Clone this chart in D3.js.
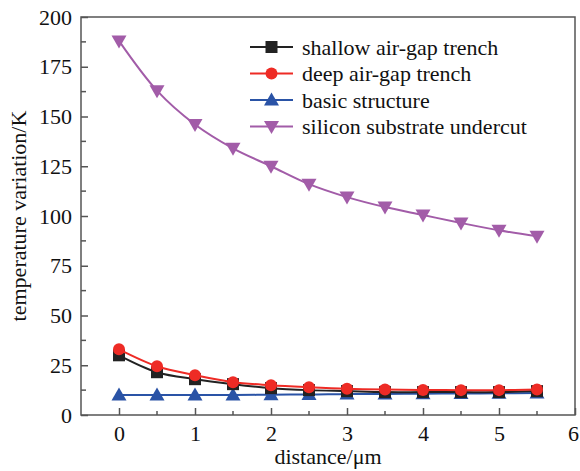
<!DOCTYPE html>
<html>
<head>
<meta charset="utf-8">
<script src="https://cdn.jsdelivr.net/npm/d3@7"></script>
<style>
  body { margin: 0; background: #fff; }
  text { font-family: "Liberation Serif", "Times New Roman", serif; }
</style>
</head>
<body>
<div id="chart"></div>
<script>
// ---------------- data ----------------
var distance = [0, 0.5, 1, 1.5, 2, 2.5, 3, 3.5, 4, 4.5, 5, 5.5];
var shallowTrench = [30, 21.5, 18, 15.5, 13.5, 12.5, 12, 11.5, 11.5, 11.5, 11.5, 12];
var deepTrench = [33, 24.5, 20, 16.5, 15, 14, 13.2, 12.8, 12.6, 12.5, 12.5, 12.8];
var basicStructure = [10, 10, 10, 10, 10.2, 10.3, 10.5, 10.6, 10.7, 10.8, 10.9, 11];
var substrateUndercut = [188, 163, 146, 134, 125, 116, 109.5, 104.5, 100.5, 96.5, 92.8, 89.8];
var seriesNames = ["shallow air-gap trench", "deep air-gap trench", "basic structure", "silicon substrate undercut"];
var xTicks = [0, 1, 2, 3, 4, 5, 6];
var yTicks = [0, 25, 50, 75, 100, 125, 150, 175, 200];

var series = [
  {name: seriesNames[0], values: shallowTrench, color: "#222222", marker: "square"},
  {name: seriesNames[1], values: deepTrench, color: "#ee2b25", marker: "circle"},
  {name: seriesNames[2], values: basicStructure, color: "#2a53a6", marker: "up"},
  {name: seriesNames[3], values: substrateUndercut, color: "#a25ca8", marker: "down"}
];

// ---------------- canvas ----------------
var svgWidth = 580, svgHeight = 471;
var margin = {left: 81, right: 5, top: 17, bottom: 56};
var w = svgWidth - margin.left - margin.right,
    h = svgHeight - margin.top - margin.bottom;

var svg = d3.select("#chart").append("svg")
    .attr("width", svgWidth)
    .attr("height", svgHeight);

var g = svg.append("g")
    .attr("transform", `translate(${margin.left}, ${margin.top})`);

var x = d3.scaleLinear().domain([-0.5, 6]).range([0, w]);
var y = d3.scaleLinear().domain([0, 200]).range([h, 0]);

var axisColor = "#555";
var fontSize = 22;

// frame
g.append("rect")
    .attr("width", w).attr("height", h)
    .attr("fill", "none").attr("stroke", axisColor).attr("stroke-width", 1.5);

// x axis (ticks point inward)
var xAxis = g.append("g").attr("transform", `translate(0, ${h})`)
    .call(d3.axisBottom(x).tickValues(xTicks).tickSize(-7).tickPadding(10).tickFormat(d3.format("d")));
xAxis.select(".domain").remove();
xAxis.selectAll(".tick line").attr("stroke", axisColor).attr("stroke-width", 1.5);
xAxis.selectAll("text").attr("font-size", fontSize).attr("fill", "#111").attr("font-family", "Liberation Serif");
// last label sits against the right edge, as in the original
xAxis.selectAll("text").filter(d => d === 6).attr("dx", -2);

// x minor ticks
g.append("g").selectAll("line")
    .data(d3.range(0.5, 6, 1))
    .enter().append("line")
    .attr("x1", d => x(d)).attr("x2", d => x(d))
    .attr("y1", h).attr("y2", h - 4)
    .attr("stroke", axisColor).attr("stroke-width", 1.5);

// y axis
var yAxis = g.append("g")
    .call(d3.axisLeft(y).tickValues(yTicks).tickSize(-7).tickPadding(9));
yAxis.select(".domain").remove();
yAxis.selectAll(".tick line").attr("stroke", axisColor).attr("stroke-width", 1.5);
yAxis.selectAll("text").attr("font-size", fontSize).attr("fill", "#111").attr("font-family", "Liberation Serif");

// y minor ticks
g.append("g").selectAll("line")
    .data(d3.range(12.5, 200, 25))
    .enter().append("line")
    .attr("x1", 0).attr("x2", 5)
    .attr("y1", d => y(d)).attr("y2", d => y(d))
    .attr("stroke", axisColor).attr("stroke-width", 1.5);

// axis titles
svg.append("text")
    .attr("x", margin.left + x(2.75)).attr("y", 464)
    .attr("text-anchor", "middle")
    .attr("font-size", fontSize).attr("fill", "#111")
    .text("distance/\u03bcm");

svg.append("text")
    .attr("transform", `translate(26, ${margin.top + h / 2}) rotate(-90)`)
    .attr("text-anchor", "middle")
    .attr("font-size", fontSize).attr("fill", "#111")
    .text("temperature variation/K");

// ---------------- markers ----------------
function drawMarker(sel, type, color, cx, cy) {
  if (type === "square") {
    sel.append("rect").attr("x", cx - 6).attr("y", cy - 6)
      .attr("width", 12).attr("height", 12).attr("fill", color);
  } else if (type === "circle") {
    sel.append("circle").attr("cx", cx).attr("cy", cy).attr("r", 6).attr("fill", color);
  } else if (type === "up") {
    sel.append("path").attr("d", `M${cx},${cy - 7.5}L${cx + 7.5},${cy + 5.5}L${cx - 7.5},${cy + 5.5}Z`).attr("fill", color);
  } else {
    sel.append("path").attr("d", `M${cx - 7.5},${cy - 5.5}L${cx + 7.5},${cy - 5.5}L${cx},${cy + 7.5}Z`).attr("fill", color);
  }
}

var line = d3.line()
    .x((d, i) => x(distance[i]))
    .y(d => y(d))
    .curve(d3.curveCatmullRom);

// draw order: purple, blue, black, red
[3, 2, 0, 1].forEach(function(k) {
  var s = series[k];
  var sg = g.append("g");
  sg.append("path")
    .attr("d", line(s.values))
    .attr("fill", "none").attr("stroke", s.color).attr("stroke-width", 2);
  s.values.forEach(function(v, i) {
    drawMarker(sg, s.marker, s.color, x(distance[i]), y(v));
  });
});

// ---------------- legend ----------------
var legend = svg.append("g").attr("transform", "translate(250, 47)");
series.forEach(function(s, i) {
  var row = legend.append("g").attr("transform", `translate(0, ${i * 26.5})`);
  row.append("line").attr("x1", 0).attr("x2", 43).attr("y1", 0).attr("y2", 0)
    .attr("stroke", s.color).attr("stroke-width", 2);
  drawMarker(row, s.marker, s.color, 21.5, 0);
  row.append("text").attr("x", 52).attr("y", 0).attr("dy", "0.35em")
    .attr("font-size", fontSize).attr("fill", "#111")
    .text(s.name);
});
</script>
</body>
</html>
